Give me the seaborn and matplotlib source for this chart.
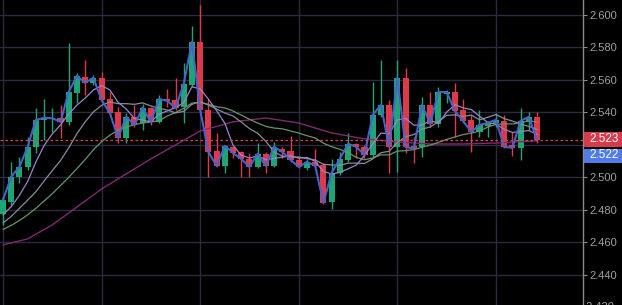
import numpy as np
import pandas as pd
import matplotlib
matplotlib.use("Agg")
import matplotlib.pyplot as plt
from matplotlib.patches import Rectangle
import seaborn as sns

# ---- data ----
opens = [2.4776, 2.4850, 2.5004, 2.5065, 2.5188, 2.5354, 2.5360, 2.5367, 2.5342, 2.5520,
         2.5619, 2.5582, 2.5613, 2.5483, 2.5403, 2.5244, 2.5373, 2.5336, 2.5428, 2.5342,
         2.5483, 2.5477, 2.5434, 2.5570, 2.5834, 2.5416, 2.5164, 2.5071, 2.5188, 2.5157,
         2.5114, 2.5065, 2.5145, 2.5071, 2.5176, 2.5164, 2.5108, 2.5059, 2.5096, 2.5077,
         2.4850, 2.5028, 2.5108, 2.5207, 2.5188, 2.5139, 2.5385, 2.5446, 2.5188, 2.5613,
         2.5194, 2.5188, 2.5446, 2.5330, 2.5514, 2.5526, 2.5416, 2.5354, 2.5280, 2.5317,
         2.5336, 2.5348, 2.5200, 2.5182, 2.5342, 2.5373]
highs = [2.4887, 2.5096, 2.5127, 2.5250, 2.5428, 2.5483, 2.5428, 2.5446, 2.5828, 2.5643,
         2.5723, 2.5631, 2.5649, 2.5526, 2.5434, 2.5397, 2.5446, 2.5453, 2.5434, 2.5508,
         2.5545, 2.5613, 2.5705, 2.5932, 2.6062, 2.5483, 2.5274, 2.5200, 2.5190, 2.5160,
         2.5151, 2.5213, 2.5157, 2.5219, 2.5188, 2.5256, 2.5127, 2.5114, 2.5176, 2.5090,
         2.5114, 2.5157, 2.5274, 2.5210, 2.5200, 2.5588, 2.5723, 2.5477, 2.5723, 2.5674,
         2.5250, 2.5496, 2.5526, 2.5557, 2.5539, 2.5582, 2.5483, 2.5385, 2.5416, 2.5348,
         2.5397, 2.5385, 2.5280, 2.5428, 2.5403, 2.5403]
lows = [2.4708, 2.4831, 2.4967, 2.5047, 2.5151, 2.5231, 2.5280, 2.5244, 2.5323, 2.5459,
        2.5508, 2.5570, 2.5465, 2.5385, 2.5213, 2.5213, 2.5311, 2.5293, 2.5323, 2.5336,
        2.5434, 2.5416, 2.5336, 2.5557, 2.5403, 2.5004, 2.5065, 2.5028, 2.5121, 2.5004,
        2.5004, 2.5059, 2.5028, 2.5065, 2.5121, 2.5096, 2.5059, 2.5047, 2.5065, 2.4838,
        2.4807, 2.5016, 2.5096, 2.5121, 2.5121, 2.5127, 2.5373, 2.5028, 2.5034, 2.5151,
        2.5090, 2.5127, 2.5311, 2.5311, 2.5459, 2.5250, 2.5336, 2.5157, 2.5250, 2.5250,
        2.5311, 2.5182, 2.5133, 2.5108, 2.5293, 2.5213]
closes = [2.4862, 2.5004, 2.5065, 2.5188, 2.5354, 2.5367, 2.5364, 2.5342, 2.5526, 2.5625,
          2.5582, 2.5613, 2.5477, 2.5397, 2.5244, 2.5373, 2.5323, 2.5428, 2.5342, 2.5483,
          2.5471, 2.5428, 2.5576, 2.5834, 2.5416, 2.5157, 2.5071, 2.5194, 2.5151, 2.5114,
          2.5065, 2.5145, 2.5071, 2.5188, 2.5157, 2.5108, 2.5065, 2.5096, 2.5071, 2.4844,
          2.5028, 2.5114, 2.5207, 2.5188, 2.5139, 2.5385, 2.5446, 2.5188, 2.5613, 2.5188,
          2.5176, 2.5446, 2.5330, 2.5526, 2.5526, 2.5410, 2.5348, 2.5280, 2.5323, 2.5336,
          2.5354, 2.5188, 2.5182, 2.5348, 2.5373, 2.5231]

ma5 = [2.4770, 2.4820, 2.4890, 2.4975, 2.5095, 2.5196, 2.5268, 2.5323, 2.5391, 2.5445,
       2.5488, 2.5538, 2.5565, 2.5539, 2.5463, 2.5421, 2.5363, 2.5353, 2.5342, 2.5390,
       2.5409, 2.5430, 2.5460, 2.5558, 2.5545, 2.5482, 2.5411, 2.5334, 2.5198, 2.5137,
       2.5119, 2.5134, 2.5109, 2.5117, 2.5125, 2.5134, 2.5118, 2.5123, 2.5099, 2.5037,
       2.5021, 2.5031, 2.5053, 2.5076, 2.5135, 2.5207, 2.5273, 2.5269, 2.5354, 2.5364,
       2.5322, 2.5322, 2.5351, 2.5333, 2.5401, 2.5448, 2.5428, 2.5418, 2.5377, 2.5339,
       2.5328, 2.5296, 2.5277, 2.5282, 2.5289, 2.5264]
ma10 = [2.4720, 2.4760, 2.4810, 2.4860, 2.4912, 2.4978, 2.5042, 2.5104, 2.5182, 2.5270,
        2.5342, 2.5403, 2.5444, 2.5465, 2.5454, 2.5454, 2.5450, 2.5459, 2.5440, 2.5426,
        2.5415, 2.5397, 2.5407, 2.5450, 2.5467, 2.5446, 2.5421, 2.5397, 2.5378, 2.5341,
        2.5301, 2.5272, 2.5222, 2.5157, 2.5131, 2.5126, 2.5126, 2.5116, 2.5108, 2.5081,
        2.5077, 2.5074, 2.5088, 2.5088, 2.5086, 2.5114, 2.5152, 2.5161, 2.5215, 2.5250,
        2.5264, 2.5298, 2.5310, 2.5344, 2.5382, 2.5385, 2.5375, 2.5384, 2.5355, 2.5370,
        2.5388, 2.5362, 2.5347, 2.5330, 2.5314, 2.5296]
ma20 = [2.4680, 2.4705, 2.4735, 2.4770, 2.4810, 2.4855, 2.4900, 2.4950, 2.5000, 2.5055,
        2.5110, 2.5170, 2.5220, 2.5260, 2.5290, 2.5310, 2.5325, 2.5335, 2.5342, 2.5348,
        2.5378, 2.5400, 2.5425, 2.5458, 2.5461, 2.5450, 2.5435, 2.5428, 2.5409, 2.5384,
        2.5358, 2.5335, 2.5314, 2.5304, 2.5299, 2.5286, 2.5273, 2.5257, 2.5243, 2.5211,
        2.5189, 2.5173, 2.5155, 2.5123, 2.5109, 2.5120, 2.5139, 2.5139, 2.5162, 2.5165,
        2.5171, 2.5186, 2.5199, 2.5216, 2.5234, 2.5249, 2.5264, 2.5273, 2.5285, 2.5310,
        2.5326, 2.5330, 2.5329, 2.5337, 2.5348, 2.5341]
ma60_idx = [0, 3, 6, 9, 12, 15, 18, 21, 24, 28, 32, 36, 40, 44, 48, 52, 56, 60, 65]
ma60 = [2.4585, 2.4622, 2.4708, 2.4818, 2.4929, 2.5022, 2.5114, 2.5200, 2.5286, 2.5342,
        2.5366, 2.5335, 2.5274, 2.5237, 2.5218, 2.5206, 2.5206, 2.5212, 2.5225]

last_price = 2.523
blue_label = 2.522
y_ticks = [2.440, 2.460, 2.480, 2.500, 2.520, 2.540, 2.560, 2.580, 2.600]
hidden_tick = 2.520          # covered by the price labels in the reference
bottom_tick = 2.420

# ---- style ----
sns.set_style("dark", {"axes.facecolor": "#000000", "figure.facecolor": "#000000"})
plt.rcParams['font.family'] = ['Liberation Sans', 'DejaVu Sans']

W, H = 622, 305
fig = plt.figure(figsize=(W / 100, H / 100), dpi=100)
ax = fig.add_axes([0, 0, 583 / W, 1])
ax.set_facecolor("#000000")

n = len(closes)
idx = np.arange(n)
df = pd.DataFrame({"i": idx, "open": opens, "high": highs, "low": lows, "close": closes,
                   "ma5": ma5, "ma10": ma10, "ma20": ma20})

GREEN = "#1fa476"
RED = "#dc3a4b"
up = df["close"] >= df["open"]
cols = np.where(up, GREEN, RED)

# wicks
ax.vlines(df["i"], df["low"], df["high"], colors=cols, linewidth=1.0, zorder=3)
# bodies
body_bottom = np.minimum(df["open"], df["close"])
body_h = np.maximum(np.abs(df["close"] - df["open"]), 0.0004)
ax.bar(df["i"], body_h, bottom=body_bottom, width=0.74, color=cols, linewidth=0, zorder=4)

# moving averages
sns.lineplot(x=ma60_idx, y=ma60, ax=ax, color="#7e2a70", linewidth=1.0, zorder=5)
sns.lineplot(data=df, x="i", y="ma20", ax=ax, color="#66956a", linewidth=0.9, zorder=5)
sns.lineplot(data=df, x="i", y="ma10", ax=ax, color="#848ea0", linewidth=0.9, zorder=5)
sns.lineplot(data=df, x="i", y="ma5", ax=ax, color="#9c84c8", linewidth=0.9, zorder=5)
sns.lineplot(data=df, x="i", y="close", ax=ax, color="#4663c8", linewidth=1.5, zorder=6)

# last price dashed line
ax.axhline(last_price, color="#e0404f", linestyle=(0, (2, 2)), linewidth=0.9, zorder=7)

# axes limits & grid
ax.set_xlim(-0.365, 70.6)
ax.set_ylim(2.4215, 2.6092)
ax.set_xticks([0, 12, 24, 36, 48, 60])
ax.set_xticklabels([])
ax.tick_params(axis="x", length=0)
ax.set_yticks(y_ticks)
ax.yaxis.tick_right()
ax.tick_params(axis="y", colors="#8a8a8a", length=3, width=0.8, pad=1.5, labelsize=8,
               labelcolor="#a0a0a0")
ax.set_yticklabels(["" if abs(v - hidden_tick) < 1e-9 else f"{v:.3f}" for v in y_ticks])
ax.grid(True, color="#2b2b3e", linewidth=1.0)
ax.set_axisbelow(True)
for s in ["top", "left", "bottom"]:
    ax.spines[s].set_visible(False)
ax.spines["right"].set_color("#8a8a8a")
ax.spines["right"].set_linewidth(1.0)
ax.set_xlabel("")
ax.set_ylabel("")

# partially visible bottom tick label
ax.text(1.0, bottom_tick, " " + f"{bottom_tick:.3f}", transform=ax.get_yaxis_transform(),
        ha="left", va="center", color="#a0a0a0", fontsize=8, clip_on=False)

# price label boxes (figure pixel coordinates)
def fy(py):
    return 1 - py / H

fig.patches.append(Rectangle((584 / W, fy(147)), 38 / W, 15 / H, transform=fig.transFigure,
                             facecolor="#d93a4a", edgecolor="none", zorder=10))
fig.patches.append(Rectangle((584 / W, fy(162.5)), 38 / W, 14 / H, transform=fig.transFigure,
                             facecolor="#4f7ce8", edgecolor="none", zorder=10))
fig.text(589 / W, fy(139.5), f"{last_price:.3f}", color="white", fontsize=8.5,
         ha="left", va="center", zorder=11)
fig.text(589 / W, fy(155.5), f"{blue_label:.3f}", color="white", fontsize=8.5,
         ha="left", va="center", zorder=11)

fig.savefig("out.png", dpi=100, facecolor="#000000")
